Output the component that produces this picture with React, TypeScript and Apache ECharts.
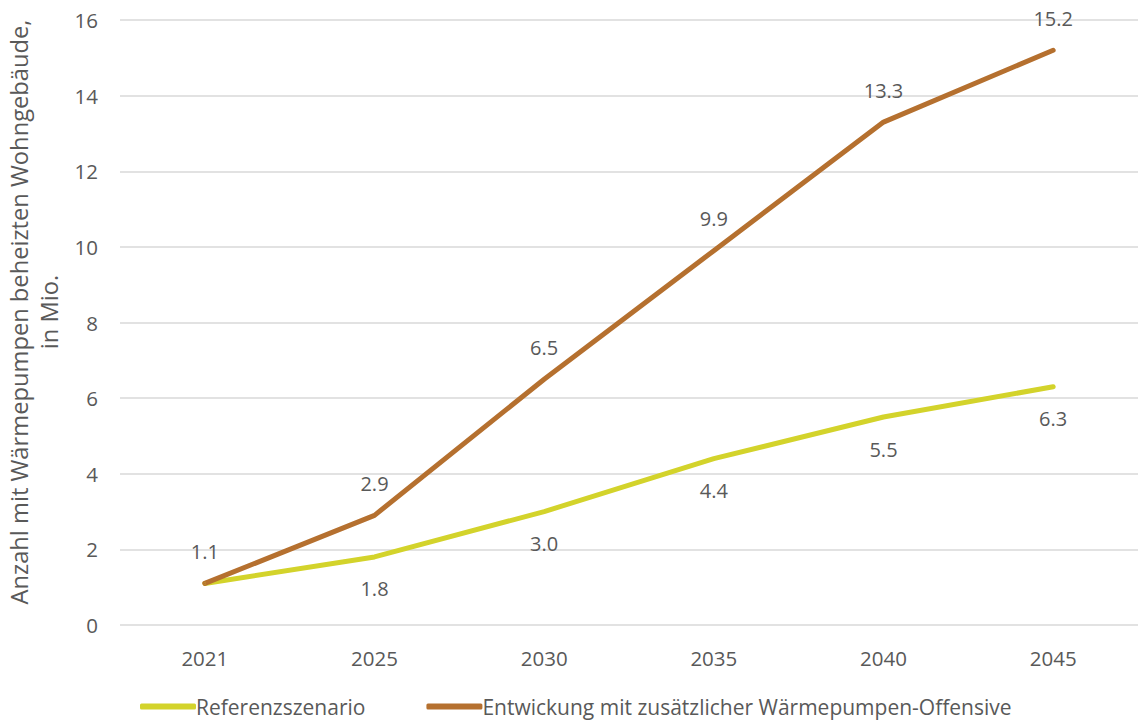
import React, { useEffect, useRef } from "react";
import * as echarts from "echarts";

const years = ["2021", "2025", "2030", "2035", "2040", "2045"];
const referenz = [1.1, 1.8, 3.0, 4.4, 5.5, 6.3];
const offensive = [1.1, 2.9, 6.5, 9.9, 13.3, 15.2];
const seriesNames = ["Referenzszenario", "Entwickung mit zusätzlicher Wärmepumpen-Offensive"];
const yAxisTitle = "Anzahl mit Wärmepumpen beheizten Wohngebäude,\nin Mio.";

const FONT = "'Open Sans', 'Noto Sans', sans-serif";
const TEXT = "#595959";
const GREEN = "#D3D32B";
const BROWN = "#B5702F";

export default function App() {
  const ref = useRef<HTMLDivElement>(null);

  useEffect(() => {
    if (!ref.current) return;
    const chart = echarts.init(ref.current, null, { renderer: "svg" });
    const fmt = (p: any) => Number(p.value).toFixed(1);
    const labelBase = {
      show: true,
      distance: 21,
      color: TEXT,
      fontSize: 20,
      fontFamily: FONT,
      formatter: fmt,
    };
    chart.setOption({
      animation: false,
      textStyle: { fontFamily: FONT },
      grid: { left: 120, top: 20, width: 1027, height: 605, containLabel: false },
      xAxis: {
        type: "category",
        data: years,
        boundaryGap: true,
        axisLine: { show: false },
        axisTick: { show: false },
        axisLabel: { color: TEXT, fontSize: 20.5, fontFamily: FONT, margin: 22 },
      },
      yAxis: {
        type: "value",
        min: 0,
        max: 16,
        interval: 2,
        axisLine: { show: false },
        axisTick: { show: false },
        axisLabel: { color: TEXT, fontSize: 20.5, fontFamily: FONT, margin: 22 },
        splitLine: { lineStyle: { color: "#D9D9D9", width: 1.5 } },
      },
      legend: {
        bottom: 0,
        left: 135,
        itemWidth: 56,
        itemHeight: 6,
        itemGap: 61,
        icon: "roundRect",
        textStyle: { color: TEXT, fontSize: 21, fontFamily: FONT, padding: [0, 0, 0, -5] },
        data: seriesNames,
      },
      graphic: [
        {
          type: "text",
          x: 34,
          y: 312,
          rotation: Math.PI / 2,
          style: {
            text: yAxisTitle,
            fill: TEXT,
            font: `23.7px ${FONT}`,
            align: "center",
            verticalAlign: "middle",
            lineHeight: 30,
          },
        },
      ],
      series: [
        {
          name: seriesNames[0],
          type: "line",
          data: referenz.map((v, i) => (i === 0 ? { value: v, label: { show: false } } : v)),
          color: GREEN,
          symbol: "circle",
          symbolSize: 2,
          showSymbol: true,
          itemStyle: { color: GREEN },
          lineStyle: { width: 5, color: GREEN, cap: "round", join: "round" },
          label: { ...labelBase, position: "bottom" },
        },
        {
          name: seriesNames[1],
          type: "line",
          data: offensive,
          color: BROWN,
          symbol: "circle",
          symbolSize: 2,
          showSymbol: true,
          itemStyle: { color: BROWN },
          lineStyle: { width: 5, color: BROWN, cap: "round", join: "round" },
          label: { ...labelBase, position: "top" },
        },
      ],
    });
    return () => chart.dispose();
  }, []);

  return <div ref={ref} style={{ width: 1138, height: 722, position: "absolute", left: 0, top: 0 }} />;
}
